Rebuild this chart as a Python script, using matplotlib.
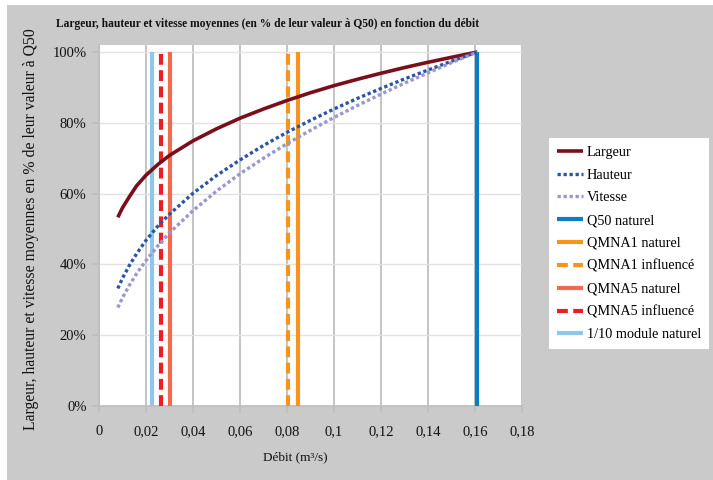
import matplotlib
matplotlib.use("Agg")
import matplotlib.pyplot as plt
from matplotlib.ticker import FuncFormatter, MultipleLocator

# Débit (m3/s) and relative values (fraction of the value at Q50)
debit = [0.008, 0.010, 0.013, 0.016, 0.020, 0.025, 0.030, 0.040, 0.050, 0.060,
         0.070, 0.080, 0.090, 0.100, 0.110, 0.120, 0.130, 0.140, 0.150, 0.161]
largeur = [0.533, 0.560, 0.592, 0.622, 0.652, 0.682, 0.708, 0.749, 0.783, 0.813,
           0.839, 0.863, 0.885, 0.905, 0.923, 0.940, 0.956, 0.971, 0.985, 1.000]
hauteur = [0.332, 0.361, 0.398, 0.430, 0.468, 0.508, 0.542, 0.601, 0.651, 0.695,
           0.736, 0.773, 0.807, 0.839, 0.869, 0.897, 0.924, 0.949, 0.974, 1.000]
vitesse = [0.278, 0.306, 0.342, 0.374, 0.411, 0.452, 0.489, 0.552, 0.607, 0.656,
           0.700, 0.741, 0.779, 0.815, 0.849, 0.881, 0.912, 0.941, 0.970, 1.000]

# Reference flows drawn as vertical markers
seuils_noms = ["Q50 naturel", "QMNA1 naturel", "QMNA1 influencé",
               "QMNA5 naturel", "QMNA5 influencé", "1/10 module naturel"]
seuils_debits = [0.161, 0.0845, 0.0804, 0.0300, 0.0264, 0.0227]

W, H = 713, 480
BG = "#cacaca"
plt.rcParams["font.family"] = ["Liberation Serif", "DejaVu Serif"]

fig = plt.figure(figsize=(W / 100, H / 100), dpi=100)
fig.patch.set_facecolor("white")
# grey chart panel
fig.add_artist(plt.Rectangle((7 / W, 0), 1 - 7 / W, 1 - 5 / H,
                             transform=fig.transFigure, facecolor=BG,
                             edgecolor="none", zorder=-10))

L, R, T, B = 99, 522, 45, 406
ax = fig.add_axes([L / W, 1 - B / H, (R - L) / W, (B - T) / H])
ax.set_facecolor("white")

ax.set_xlim(0, 0.18)
ax.set_ylim(0, 1.0 + 7 / 354)
ax.xaxis.set_major_locator(MultipleLocator(0.02))
ax.yaxis.set_major_locator(MultipleLocator(0.2))

def fmt_x(v, _):
    s = f"{v:.2f}".rstrip("0").rstrip(".")
    return s.replace(".", ",")

ax.xaxis.set_major_formatter(FuncFormatter(fmt_x))
ax.yaxis.set_major_formatter(FuncFormatter(lambda v, _: f"{v * 100:.0f}%"))

ax.grid(axis="x", color="#c4c4c4", lw=1.4, zorder=0)
ax.grid(axis="y", color="#e2e2e2", lw=1.0, zorder=0)
ax.set_axisbelow(True)
for s in ("top", "right"):
    ax.spines[s].set_visible(False)
for s in ("left", "bottom"):
    ax.spines[s].set_color("#bdbdbd")
    ax.spines[s].set_linewidth(1.2)
ax.tick_params(axis="both", colors="#bdbdbd", length=5, width=1.2,
               labelcolor="#111111", labelsize=10.5)
ax.tick_params(axis="x", pad=9)
ax.tick_params(axis="y", pad=4)

ax.plot(debit, largeur, color="#7a0f1b", lw=2.6, label="Largeur", zorder=5,
        solid_capstyle="butt")
ax.plot(debit, hauteur, color="#2d55a6", lw=2.4, linestyle=(0, (1, 0.8)),
        label="Hauteur", zorder=5, dash_capstyle="butt")
ax.plot(debit, vitesse, color="#9a96cf", lw=2.4, linestyle=(0, (1, 0.8)),
        label="Vitesse", zorder=5, dash_capstyle="butt")

styles = {
    "Q50 naturel": ("#0b7dc3", "-"),
    "QMNA1 naturel": ("#f7941d", "-"),
    "QMNA1 influencé": ("#f7941d", (0, (2.6, 1.3))),
    "QMNA5 naturel": ("#f26b4e", "-"),
    "QMNA5 influencé": ("#ee1d25", (0, (2.6, 1.3))),
    "1/10 module naturel": ("#8ec7eb", "-"),
}
for nom, q in zip(seuils_noms, seuils_debits):
    col, ls = styles[nom]
    ax.plot([q, q], [0, 1.0], color=col, lw=3.0, linestyle=ls, label=nom,
            zorder=4, solid_capstyle="butt", dash_capstyle="butt")

leg = fig.legend(loc="upper left", bbox_to_anchor=(549 / W, 1 - 138 / H),
                 frameon=True, fancybox=False, fontsize=10.3,
                 handlelength=1.8, handletextpad=0.3, labelspacing=0.68,
                 borderpad=0.55, borderaxespad=0)
leg.get_frame().set_edgecolor("none")
leg.get_frame().set_facecolor("white")
leg.get_frame().set_alpha(1)

fig.text(268 / W, 1 - 24 / H,
         "Largeur, hauteur et vitesse moyennes (en % de leur valeur à Q50) en fonction du débit",
         ha="center", va="center", fontsize=8.3, fontweight="bold", color="#111111")
fig.text(295 / W, 1 - 457 / H, "Débit (m³/s)", ha="center", va="center",
         fontsize=9.5, color="#111111")
fig.text(31 / W, 1 - 229 / H,
         "Largeur, hauteur et vitesse moyennes en % de leur valeur à Q50",
         ha="center", va="center", rotation=90, fontsize=11.3, color="#111111")

fig.savefig("out.png", dpi=100, facecolor=fig.get_facecolor())
